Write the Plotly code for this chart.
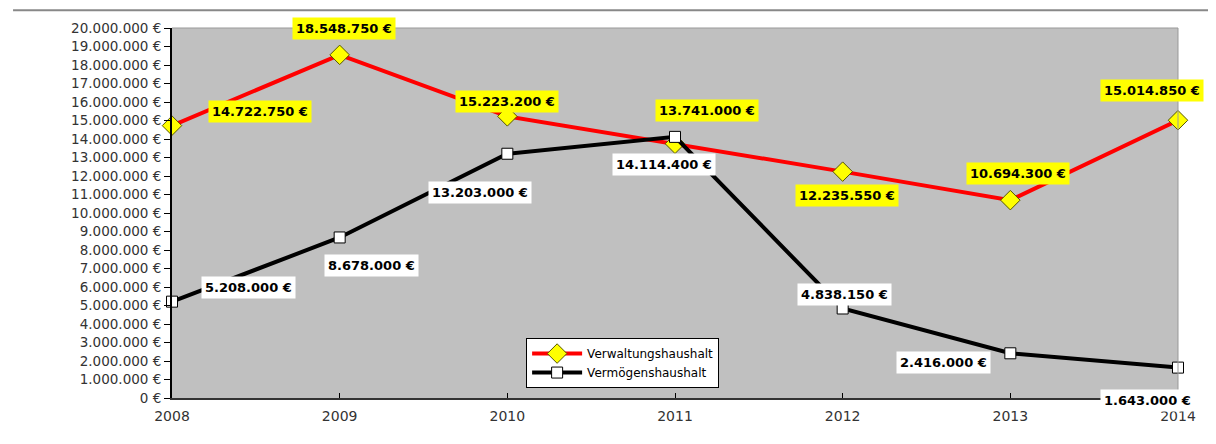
import plotly.graph_objects as go

years = [2008, 2009, 2010, 2011, 2012, 2013, 2014]
verwaltung = [14722750, 18548750, 15223200, 13741000, 12235550, 10694300, 15014850]
vermoegen = [5208000, 8678000, 13203000, 14114400, 4838150, 2416000, 1643000]
y_ticks = list(range(0, 20000001, 1000000))


def fmt(v):
    return f"{v:,}".replace(",", ".") + " €"


y_ticktext = [fmt(v) for v in y_ticks]

# label offsets in pixels (style only)
red_off = [(88, 14), (4, 26), (0, 15), (32, 33), (4, -24), (8, 27), (-26, 30)]
blk_off = [(76, 14), (32, -28), (-27, -39), (-11, -28), (2, 14), (-67, -9), (-31, -33)]

FONT = "DejaVu Sans, Verdana, sans-serif"

fig = go.Figure()
fig.add_trace(go.Scatter(
    x=years, y=verwaltung, name="Verwaltungshaushalt", mode="lines+markers",
    line=dict(color="#ff0000", width=4), cliponaxis=False,
    marker=dict(symbol="diamond", size=15, color="#ffff00", line=dict(color="#555500", width=1)),
))
fig.add_trace(go.Scatter(
    x=years, y=vermoegen, name="Vermögenshaushalt", mode="lines+markers",
    line=dict(color="#000000", width=4), cliponaxis=False,
    marker=dict(symbol="square", size=11, color="#ffffff", line=dict(color="#000000", width=1)),
))

ann = []
for x, v, (dx, dy) in zip(years, verwaltung, red_off):
    ann.append(dict(x=x, y=v, xref="x", yref="y", text="<b>" + fmt(v) + "</b>", showarrow=False,
                    xshift=dx, yshift=dy, bgcolor="#ffff00",
                    font=dict(family=FONT, size=13, color="#000"), borderpad=3))
for x, v, (dx, dy) in zip(years, vermoegen, blk_off):
    ann.append(dict(x=x, y=v, xref="x", yref="y", text="<b>" + fmt(v) + "</b>", showarrow=False,
                    xshift=dx, yshift=dy, bgcolor="#ffffff",
                    font=dict(family=FONT, size=13, color="#000"), borderpad=3))

fig.update_layout(
    width=1200, height=428,
    margin=dict(l=164, r=22, t=18, b=36),
    paper_bgcolor="#ffffff", plot_bgcolor="#c0c0c0",
    font=dict(family=FONT, size=13.5, color="#333"),
    showlegend=True,
    legend=dict(x=0.352, y=0.162, xanchor="left", yanchor="top", bgcolor="#ffffff",
                bordercolor="#000000", borderwidth=1, font=dict(size=12, color="#000"),
                itemwidth=50, tracegroupgap=0),
    annotations=ann,
    shapes=[
        dict(type="line", xref="paper", yref="paper", x0=-0.158, x1=1.03, y0=1.048, y1=1.048,
             line=dict(color="#888888", width=2)),
        dict(type="line", xref="paper", yref="paper", x0=0, x1=1, y0=1, y1=1,
             line=dict(color="#999999", width=1)),
        dict(type="line", xref="paper", yref="paper", x0=1, x1=1, y0=0, y1=1,
             line=dict(color="#999999", width=1)),
    ],
)
fig.update_xaxes(range=[2008, 2014], tickvals=years, ticktext=[str(y) for y in years],
                 showgrid=False, zeroline=False, showline=True, linecolor="#333", linewidth=2,
                 ticks="inside", ticklen=5, tickcolor="#000", tickfont=dict(size=14),
                 ticklabelstandoff=4)
fig.update_yaxes(range=[0, 20000000], tickvals=y_ticks, ticktext=y_ticktext,
                 showgrid=False, zeroline=False, showline=True, linecolor="#000", linewidth=2,
                 ticks="outside", ticklen=6, tickcolor="#000")

fig.write_html("out.html")
